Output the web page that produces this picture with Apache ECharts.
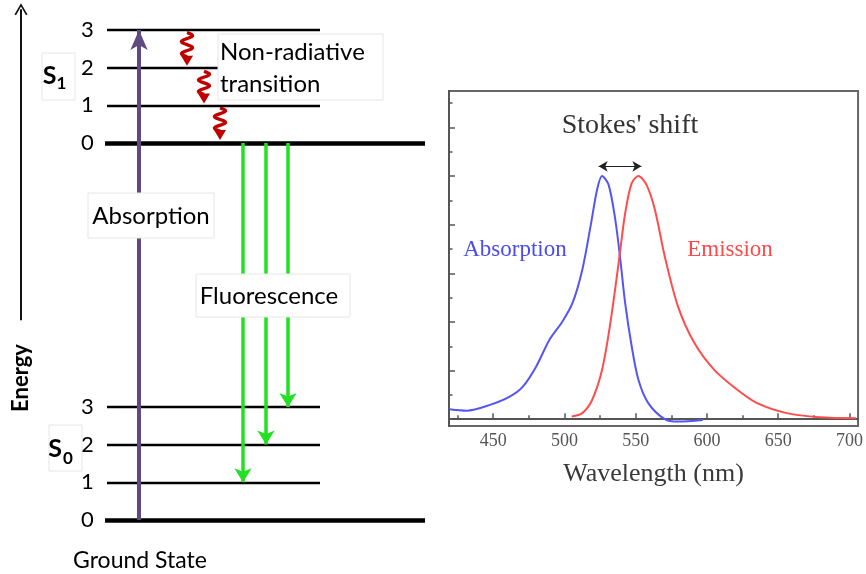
<!DOCTYPE html>
<html>
<head>
<meta charset="utf-8">
<script src="https://cdn.jsdelivr.net/npm/echarts@6.0.0/dist/echarts.min.js"></script>
<style>
html,body{margin:0;padding:0;background:#fff;}
#main{width:866px;height:574px;}
</style>
</head>
<body>
<div id="main"></div>
<script>
// ---------- Jablonski diagram (left), y unit = one vibrational level ----------
var s0Levels = [0, 1, 2, 3];
var s1Levels = [10, 11, 12, 13];
var levelTicks = [0, 1, 2, 3, 10, 11, 12, 13];
var absorbX = 139;
var fluoX = [243, 266, 288];
var fluoTo = [1, 2, 3];
var relaxX = [187, 204, 220];
var relaxFrom = [12.93, 11.9, 10.93];
var relaxTo = [12.05, 11.05, 10.08];
var energyFrom = 5.3;
var energyTo = 13.55;

// ---------- spectrum (right) ----------
var absNm = [419.4, 431.5, 447.7, 461.6, 470.8, 480.1, 489.4, 498.6, 505.6, 512.5, 518.3, 522.9, 526.4, 531.0, 535.7, 539.2, 542.6, 547.2, 551.9, 558.8, 570.4, 579.7, 597.0];
var absVal = [0.041, 0.035, 0.059, 0.093, 0.134, 0.216, 0.326, 0.402, 0.477, 0.614, 0.793, 0.944, 1.0, 0.964, 0.82, 0.656, 0.477, 0.299, 0.162, 0.066, 0.0, -0.01, -0.003];
var emNm = [505.1, 512.5, 519.4, 526.4, 532.2, 538.0, 542.6, 547.2, 551.9, 557.6, 563.5, 570.4, 579.7, 591.2, 605.1, 621.3, 635.2, 656.0, 679.2, 704.6];
var emVal = [0.011, 0.025, 0.079, 0.203, 0.395, 0.642, 0.848, 0.971, 1.0, 0.964, 0.861, 0.669, 0.463, 0.313, 0.203, 0.121, 0.066, 0.025, 0.008, 0.004];
var xMajor = [450, 500, 550, 600, 650, 700];
var xMinor = [425, 475, 525, 575, 625, 675];
var yMajor = [0, 0.2, 0.4, 0.6, 0.8, 1.0, 1.2];
var yMinor = [0.1, 0.3, 0.5, 0.7, 0.9, 1.1, 1.3];
var stokesNm = [524, 554];
var stokesY = 1.04;

var SANS = 'Lato, "Open Sans", sans-serif';
var SERIF = '"Liberation Serif", "DejaVu Serif", serif';

function pairs(xs, ys) {
    var out = [];
    for (var i = 0; i < xs.length; i++) out.push([xs[i], ys[i]]);
    return out;
}

// level lines + arrows as markLines on the left grid
var levelLines = [];
s0Levels.concat(s1Levels).forEach(function (lv) {
    var ground = lv % 10 === 0;
    levelLines.push([
        {coord: [ground ? 105 : 107, lv], symbol: 'none', lineStyle: {color: '#000', width: ground ? 4.5 : 2.4, type: 'solid'}},
        {coord: [ground ? 425 : 320, lv], symbol: 'none'}
    ]);
});
levelLines.push([
    {coord: [absorbX, s0Levels[0]], symbol: 'none', lineStyle: {color: '#5f4b80', width: 4, type: 'solid'}},
    {coord: [absorbX, s1Levels[3]], symbol: 'arrow', symbolSize: [13, 20]}
]);
fluoX.forEach(function (x, i) {
    levelLines.push([
        {coord: [x, s1Levels[0]], symbol: 'none', lineStyle: {color: '#22e022', width: 3.5, type: 'solid'}},
        {coord: [x, fluoTo[i]], symbol: 'arrow', symbolSize: [13, 14]}
    ]);
});
levelLines.push([
    {coord: [21, energyFrom], symbol: 'none', lineStyle: {color: '#111', width: 2, type: 'solid'}},
    {coord: [21, energyTo], symbol: 'path://M0,12 L6,0 L12,12 L10.6,12.8 L6,3.6 L1.4,12.8 Z', symbolSize: [13, 12]}
]);

var relaxData = [];
for (var i = 0; i < relaxX.length; i++) relaxData.push([relaxX[i], relaxFrom[i], relaxTo[i]]);

function renderSquiggle(params, api) {
    var p0 = api.coord([api.value(0), api.value(1)]);
    var p1 = api.coord([api.value(0), api.value(2)]);
    var headH = 9, headW = 12;
    var len = p1[1] - p0[1] - headH;
    var pts = [];
    for (var k = 0; k <= 30; k++) {
        var t = k / 30;
        pts.push([p0[0] + 5.5 * Math.sin(t * Math.PI * 4), p0[1] + t * len]);
    }
    return {
        type: 'group',
        children: [
            {type: 'polyline', shape: {points: pts}, style: {stroke: '#c00000', lineWidth: 3.3, fill: null}},
            {type: 'polygon', shape: {points: [[p1[0] - headW / 2, p1[1] - headH - 1], [p1[0] + headW / 2, p1[1] - headH - 1], [p1[0], p1[1]]]}, style: {fill: '#c00000'}}
        ]
    };
}

function box(x, y, w, h) {
    return {type: 'rect', z: 100, shape: {x: x, y: y, width: w, height: h}, style: {fill: '#fff', stroke: '#e6e6e6', lineWidth: 1}};
}
function txt(s, x, y, font, fill, align) {
    return {type: 'text', z: 101, style: {text: s, x: x, y: y, font: font, fill: fill || '#000', align: align || 'center', verticalAlign: 'middle'}};
}

var chart = echarts.init(document.getElementById('main'));
chart.setOption({
    animation: false,
    backgroundColor: '#fff',
    grid: [
        {left: 0, top: 3.5, width: 430, bottom: 16.3, show: false},
        {left: 449, top: 91, right: 4, bottom: 148, show: true, borderColor: '#666', borderWidth: 2, backgroundColor: 'transparent'}
    ],
    xAxis: [
        {gridIndex: 0, type: 'value', min: 0, max: 430, show: false},
        {gridIndex: 1, type: 'value', position: 'bottom', min: 419, max: 706, splitLine: {show: false},
            axisLine: {show: true, lineStyle: {color: '#555', width: 2}},
            axisTick: {show: true, inside: true, length: 6, customValues: xMajor, lineStyle: {color: '#555', width: 1.5}},
            axisLabel: {customValues: xMajor, margin: 6, fontFamily: SERIF, fontSize: 18, color: '#555'},
            name: 'Wavelength (nm)', nameLocation: 'middle', nameGap: 35,
            nameTextStyle: {fontFamily: SERIF, fontSize: 26, color: '#3a3a3a'}},
        {gridIndex: 1, type: 'value', position: 'bottom', min: 419, max: 706, splitLine: {show: false},
            axisLine: {show: false},
            axisTick: {show: true, inside: true, length: 4, customValues: xMinor, lineStyle: {color: '#555', width: 1.5}},
            axisLabel: {show: false}}
    ],
    yAxis: [
        {gridIndex: 0, type: 'value', min: -1, max: 13.7, splitLine: {show: false},
            axisLine: {show: false}, axisTick: {show: false},
            axisLabel: {inside: true, margin: 81, customValues: levelTicks, fontFamily: SANS, fontSize: 22, color: '#000',
                formatter: function (v) { return String(v % 10); }}},
        {gridIndex: 1, type: 'value', position: 'left', min: -0.028, max: 1.35, splitLine: {show: false},
            axisLine: {show: true, lineStyle: {color: '#555', width: 2}},
            axisTick: {show: true, inside: true, length: 6, customValues: yMajor, lineStyle: {color: '#555', width: 1.5}},
            axisLabel: {show: false}},
        {gridIndex: 1, type: 'value', position: 'left', min: -0.028, max: 1.35, splitLine: {show: false},
            axisLine: {show: false},
            axisTick: {show: true, inside: true, length: 3.5, customValues: yMinor, lineStyle: {color: '#555', width: 1.5}},
            axisLabel: {show: false}}
    ],
    series: [
        {
            type: 'line', name: 'levels', xAxisIndex: 0, yAxisIndex: 0, data: [], silent: true,
            markLine: {silent: true, label: {show: false}, animation: false, data: levelLines}
        },
        {
            type: 'custom', name: 'relax', xAxisIndex: 0, yAxisIndex: 0, silent: true,
            renderItem: renderSquiggle, data: relaxData, z: 3
        },
        {
            type: 'line', name: 'Absorption', xAxisIndex: 1, yAxisIndex: 1, smooth: 0.3, showSymbol: false,
            lineStyle: {color: '#5555f5', width: 2}, data: pairs(absNm, absVal)
        },
        {
            type: 'line', name: 'Emission', xAxisIndex: 1, yAxisIndex: 1, smooth: 0.3, showSymbol: false,
            lineStyle: {color: '#ff4c4c', width: 2}, data: pairs(emNm, emVal),
            markLine: {silent: true, label: {show: false}, symbol: ['arrow', 'arrow'], symbolSize: [8, 9],
                lineStyle: {color: '#222', width: 1.2, type: 'solid'},
                data: [[{coord: [stokesNm[0], stokesY]}, {coord: [stokesNm[1], stokesY]}]]}
        }
    ],
    graphic: [
        // left diagram labels
        box(42, 53, 33, 47),
        txt('S', 49.5, 76, 'bold 25px ' + SANS),
        txt('1', 61.5, 84, 'bold 17px ' + SANS),
        box(49, 425, 33, 46),
        txt('S', 55, 449, 'bold 25px ' + SANS),
        txt('0', 68, 459, 'bold 17px ' + SANS),
        box(218, 34, 165, 66),
        txt('Non-radiative', 220, 52, '24px ' + SANS, '#000', 'left'),
        txt('transition', 220, 84, '24px ' + SANS, '#000', 'left'),
        box(88, 193, 126, 45),
        txt('Absorption', 151, 216, '24px ' + SANS),
        box(196, 274, 154, 43),
        txt('Fluorescence', 269, 296, '24px ' + SANS),
        txt('Ground State', 140, 561, '23px ' + SANS),
        {type: 'text', z: 101, x: 21, y: 378, rotation: Math.PI / 2,
            style: {text: 'Energy', font: 'bold 22px ' + SANS, fill: '#000', align: 'center', verticalAlign: 'middle'}},
        // spectrum labels
        txt("Stokes' shift", 630, 126, '28px ' + SERIF, '#333'),
        txt('Absorption', 515, 250, '23px ' + SERIF, '#4a4af0'),
        txt('Emission', 730, 250, '23px ' + SERIF, '#ff4a4a')
    ]
});
</script>
</body>
</html>
